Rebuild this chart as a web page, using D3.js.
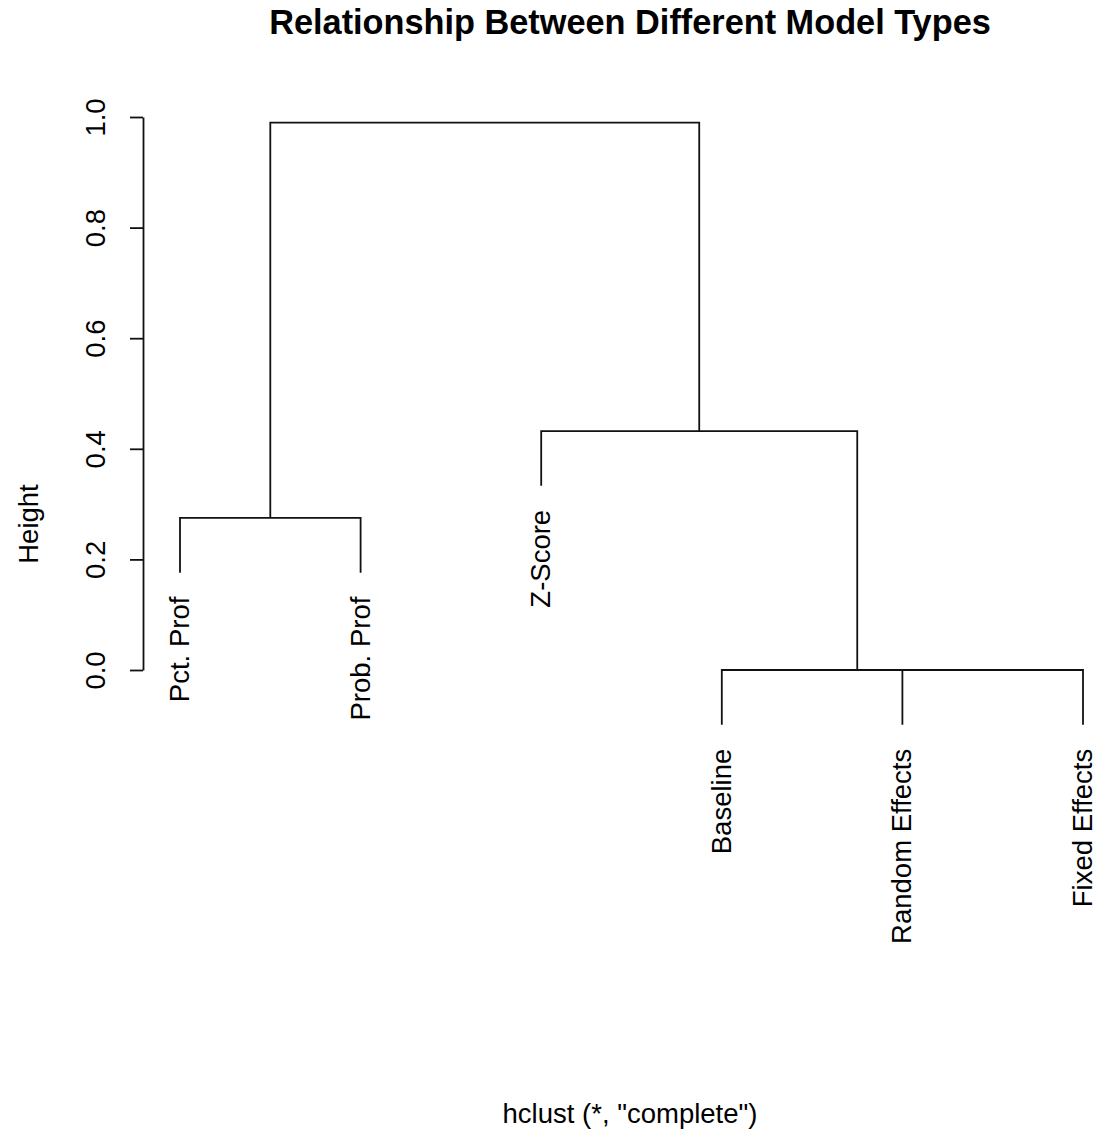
<!DOCTYPE html>
<html>
<head>
<meta charset="utf-8">
<script src="https://cdn.jsdelivr.net/npm/d3@7"></script>
<style>
  html, body { margin: 0; padding: 0; background: #fff; }
  svg { display: block; font-family: "Liberation Sans", Arial, sans-serif; }
</style>
</head>
<body>
<svg id="chart" width="1097" height="1133"></svg>
<script>
// Leaf labels (observation order, 1-based in the merge table)
const labels = ["Pct. Prof", "Prob. Prof", "Z-Score", "Baseline", "Random Effects", "Fixed Effects"];
// hclust-style merge table: negative = leaf, positive = earlier merge step
const merges = [[-5, -6], [-4, 1], [-1, -2], [-3, 2], [3, 4]];
const mergeHeights = [0.0, 0.0, 0.275, 0.432, 0.990];
// Leaf order along the x axis
const leafOrder = [1, 2, 3, 4, 5, 6];
const yTicks = [0.0, 0.2, 0.4, 0.6, 0.8, 1.0];

const title = "Relationship Between Different Model Types";
const xTitle = 'hclust (*, "complete")';
const yTitle = "Height";

const svg = d3.select("#chart");
const axisX = 143;

const x = d3.scaleLinear().domain([1, labels.length]).range([180, 1083]);
const y = d3.scaleLinear().domain([0, 1]).range([670, 117]);

const hang = 0.1 * d3.max(mergeHeights);

// Node positions: leaves from their order, merges at the midpoint of their children
const leafPos = new Map(leafOrder.map((leaf, i) => [leaf, i + 1]));
const nodes = [];
function node(ref) {
  return ref < 0 ? { leaf: true, idx: -ref, pos: leafPos.get(-ref) } : nodes[ref - 1];
}
merges.forEach((m, i) => {
  const a = node(m[0]), b = node(m[1]);
  nodes.push({ leaf: false, a, b, h: mergeHeights[i], pos: (a.pos + b.pos) / 2 });
});
function topOf(n, parentH) { return n.leaf ? parentH - hang : n.h; }

const lineColor = "#111";
const lineWidth = 1.8;
const gTree = svg.append("g");
nodes.forEach(n => {
  const ay = topOf(n.a, n.h), by = topOf(n.b, n.h);
  const p = d3.path();
  p.moveTo(x(n.a.pos), y(ay));
  p.lineTo(x(n.a.pos), y(n.h));
  p.lineTo(x(n.b.pos), y(n.h));
  p.lineTo(x(n.b.pos), y(by));
  gTree.append("path")
    .attr("d", p.toString())
    .attr("fill", "none")
    .attr("stroke", lineColor)
    .attr("stroke-width", lineWidth);
});

// Leaf labels, hanging below each leaf end
const leafEnds = [];
nodes.forEach(n => [n.a, n.b].forEach(c => { if (c.leaf) leafEnds.push({ idx: c.idx, pos: c.pos, h: n.h - hang }); }));
svg.append("g").selectAll("text")
  .data(leafEnds)
  .join("text")
  .attr("transform", d => `translate(${x(d.pos) + 9},${y(d.h) + 24}) rotate(-90)`)
  .attr("text-anchor", "end")
  .attr("font-size", 27.5)
  .attr("fill", "#000")
  .text(d => labels[d.idx - 1]);

// Y axis
const yAxis = d3.axisLeft(y)
  .tickValues(yTicks)
  .tickSize(13)
  .tickSizeOuter(0)
  .tickFormat(d3.format(".1f"));
const gAxis = svg.append("g").attr("transform", `translate(${axisX},0)`).call(yAxis);
gAxis.select(".domain").attr("stroke", lineColor).attr("stroke-width", lineWidth);
gAxis.selectAll(".tick line").attr("stroke", lineColor).attr("stroke-width", lineWidth);
gAxis.selectAll(".tick text")
  .attr("x", null).attr("dy", null).attr("y", null)
  .attr("transform", "translate(-38,0) rotate(-90)")
  .attr("text-anchor", "middle")
  .attr("font-size", 27.5)
  .attr("font-family", "Liberation Sans, Arial, sans-serif")
  .attr("fill", "#000");

// Titles
svg.append("text")
  .attr("x", 630).attr("y", 34)
  .attr("text-anchor", "middle")
  .attr("font-size", 34.3)
  .attr("font-weight", "bold")
  .text(title);

svg.append("text")
  .attr("x", 630).attr("y", 1123)
  .attr("text-anchor", "middle")
  .attr("font-size", 27.5)
  .text(xTitle);

svg.append("text")
  .attr("transform", "translate(38,524) rotate(-90)")
  .attr("text-anchor", "middle")
  .attr("font-size", 27.5)
  .text(yTitle);
</script>
</body>
</html>
